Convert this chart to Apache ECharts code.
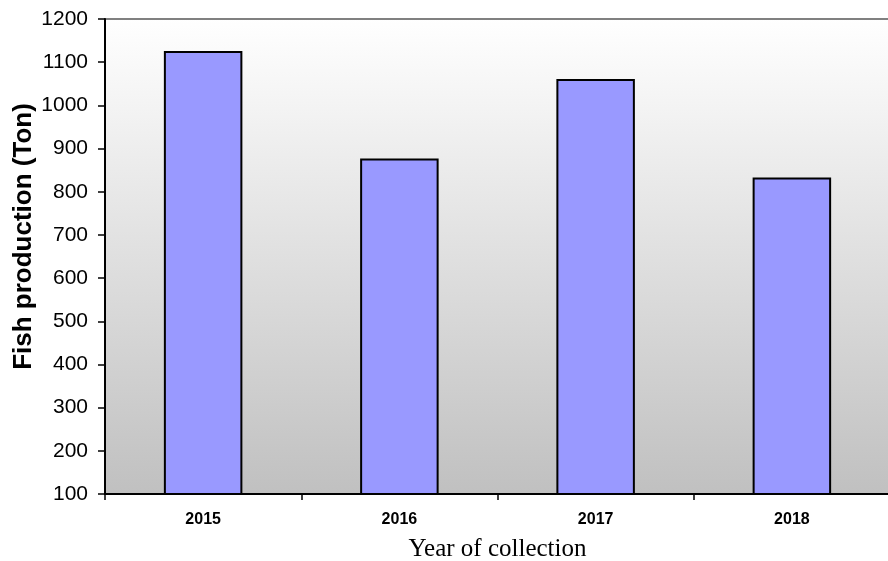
<!DOCTYPE html>
<html>
<head>
<meta charset="utf-8">
<script src="https://cdn.jsdelivr.net/npm/echarts@6/dist/echarts.min.js"></script>
<style>
  html, body { margin: 0; padding: 0; background: #fff; }
  #chart { width: 888px; height: 561px; }
</style>
</head>
<body>
<div id="chart"></div>
<script>
const years = ['2015', '2016', '2017', '2018']
const production = [1126, 877, 1061, 833]

const chart = echarts.init(document.getElementById('chart'))

chart.setOption({
  animation: false,
  grid: {
    left: 105, top: 19, right: -2, bottom: 67,
    outerBoundsMode: 'none',
    containLabel: false,
    show: true,
    borderColor: '#808080',
    borderWidth: 2,
    backgroundColor: new echarts.graphic.LinearGradient(0, 0, 0, 1, [
      { offset: 0, color: '#ffffff' },
      { offset: 1, color: '#c0c0c0' },
    ]),
  },
  xAxis: {
    type: 'category',
    data: years,
    name: 'Year of collection',
    nameLocation: 'middle',
    nameGap: 43,
    nameMoveOverlap: false,
    nameTextStyle: { fontFamily: 'Liberation Serif', fontSize: 25, color: '#000' },
    axisLine: { lineStyle: { color: '#000', width: 2 } },
    axisTick: { show: true, length: 6, lineStyle: { color: '#000', width: 1.5 } },
    axisLabel: { color: '#000', fontFamily: 'Liberation Sans', fontWeight: 'bold', fontSize: 16, margin: 18 },
  },
  yAxis: {
    type: 'value',
    min: 100,
    max: 1200,
    interval: 100,
    name: 'Fish production (Ton)',
    nameLocation: 'middle',
    nameGap: 68,
    nameMoveOverlap: false,
    nameTextStyle: {
      fontFamily: 'Liberation Sans', fontWeight: 'bold', fontSize: 26, color: '#000',
      padding: [0, 0, 0, 40],
    },
    axisLine: { show: true, lineStyle: { color: '#000', width: 2 } },
    axisTick: { show: true, length: 7, lineStyle: { color: '#000', width: 1.5 } },
    axisLabel: {
      color: '#000', fontFamily: 'Liberation Sans', fontSize: 21, margin: 17,
      formatter: (v) => String(v),
    },
    splitLine: { show: false },
  },
  series: [{
    type: 'bar',
    data: production,
    barWidth: '40%',
    itemStyle: { color: '#9999ff', borderColor: '#000', borderWidth: 2 },
  }],
})
</script>
</body>
</html>
